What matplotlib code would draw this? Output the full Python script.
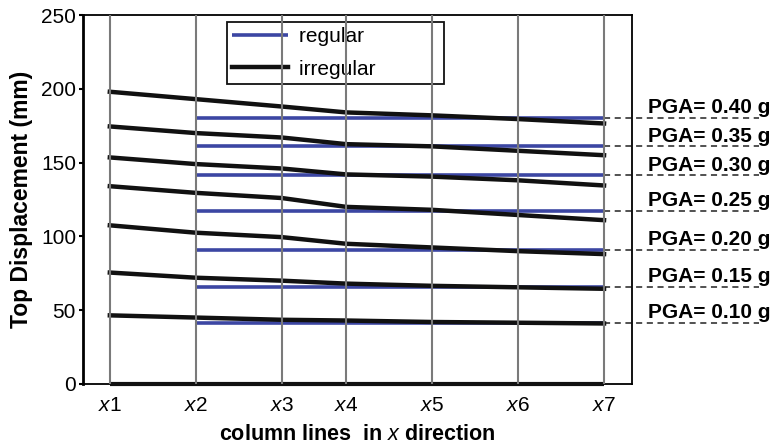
'''
plot.py

Purpose: top displacement of regular vs irregular frames along column lines,
         one pair of curves per PGA level.
'''
import numpy as np
import matplotlib
matplotlib.use('Agg')
import matplotlib.pyplot as plt

plt.rcParams['font.family'] = ['Liberation Sans', 'DejaVu Sans']
plt.rcParams['mathtext.fontset'] = 'custom'
plt.rcParams['mathtext.it'] = 'Liberation Sans:italic'
plt.rcParams['mathtext.rm'] = 'Liberation Sans'
plt.rcParams['mathtext.bf'] = 'Liberation Sans:bold'

############################################################################
## data
col_labels = [r'$x$1', r'$x$2', r'$x$3', r'$x$4', r'$x$5', r'$x$6', r'$x$7']
col_pos = [0, 4, 8, 11, 15, 19, 23]          # column line positions (m)
pga = ['0.40', '0.35', '0.30', '0.25', '0.20', '0.15', '0.10']

## irregular frame, top displacement at x1..x7 (mm)
irr_040 = [198.0, 193.0, 188.0, 184.0, 182.0, 179.5, 176.5]
irr_035 = [174.5, 170.0, 167.0, 162.5, 161.0, 158.0, 155.0]
irr_030 = [153.5, 149.0, 146.0, 142.0, 140.5, 138.0, 134.5]
irr_025 = [134.0, 129.5, 126.0, 120.0, 118.0, 114.5, 111.0]
irr_020 = [107.5, 102.5, 99.5, 95.0, 92.5, 90.0, 88.0]
irr_015 = [75.5, 72.0, 70.0, 68.0, 66.5, 65.5, 64.5]
irr_010 = [46.5, 45.0, 43.5, 43.0, 42.0, 41.5, 41.0]
irregular = [irr_040, irr_035, irr_030, irr_025, irr_020, irr_015, irr_010]

## regular frame, constant along x2..x7 (mm)
regular = [180.5, 161.0, 141.5, 117.5, 91.0, 66.0, 41.5]

blue = '#3c46a3'

############################################################################
## plot
fig = plt.figure(figsize=(7.74, 4.48), dpi=100)
ax = fig.add_axes([0.1072, 0.1429, 0.7093, 0.8236])

## column lines (drawn over the curves)
for xp in col_pos:
  ax.axvline(xp, color='#7a7a7a', lw=1.5, zorder=6)

## regular (blue) from x2 to x7, dashed leader to label
for i, r in enumerate(regular):
  ax.plot(col_pos[1:], [r] * (len(col_pos) - 1), color=blue, lw=2.6,
          solid_capstyle='butt', zorder=3,
          label='regular' if i == 0 else None)
  ax.plot([col_pos[-1], 30.2], [r, r], color='#222222', lw=1.1,
          ls=(0, (4, 3)), clip_on=False, zorder=2)
  ax.text(30.75, r + 3.0, 'PGA= ' + pga[i] + ' g', fontsize=15,
          fontweight='bold', ha='right', va='baseline', clip_on=False)

## irregular (black)
for i, v in enumerate(irregular):
  ax.plot(col_pos, v, color='#111111', lw=3.2, zorder=4,
          label='irregular' if i == 0 else None)

## zero baseline
ax.plot([col_pos[0], col_pos[-1]], [0, 0], color='#111111', lw=3.0,
        solid_capstyle='butt', clip_on=False, zorder=5)

ax.set_xlim(-1.25, 24.3)
ax.set_ylim(0, 250)
ax.set_xticks(col_pos)
ax.set_xticklabels(col_labels, fontsize=15)
ax.set_yticks(np.arange(0, 251, 50))
ax.tick_params(axis='y', labelsize=15, length=3, width=1.5, pad=2)
ax.tick_params(axis='x', length=0, pad=9)

for s in ['top', 'right', 'bottom']:
  ax.spines[s].set_linewidth(1.3)
ax.spines['left'].set_linewidth(2.0)

ax.set_ylabel('Top Displacement (mm)', fontsize=16.5, fontweight='bold',
              labelpad=6)
ax.set_xlabel(r'column lines  in $\mathit{x}$ direction', fontsize=15.5,
              fontweight='bold', labelpad=6)

## legend box is wider than its text in the original, pad the labels
h, l = ax.get_legend_handles_labels()
l = [s + ' ' * 11 for s in l]
leg = ax.legend(h, l, loc='upper left', bbox_to_anchor=(0.262, 0.981),
                fontsize=15, frameon=True, fancybox=False, framealpha=1,
                edgecolor='#111111', handlelength=2.7, borderpad=0.25,
                labelspacing=0.65, borderaxespad=0, handletextpad=0.5)
leg.get_frame().set_linewidth(1.3)

plt.savefig('out.png', dpi=100)
